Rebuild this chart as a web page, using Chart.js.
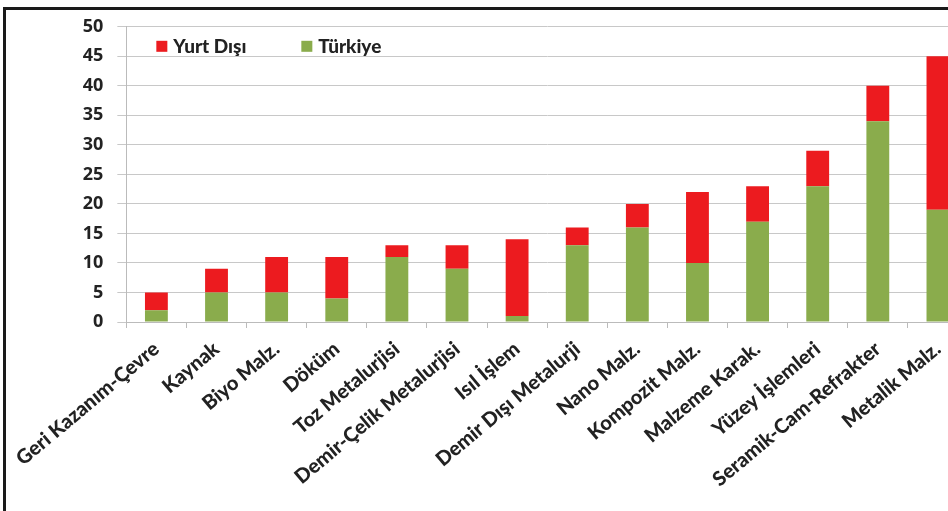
<!DOCTYPE html>
<html>
<head>
<meta charset="utf-8">
<script src="https://cdn.jsdelivr.net/npm/chart.js@4"></script>
<style>
  html, body { margin: 0; padding: 0; background: #fff; overflow: hidden; width: 948px; height: 511px; }
  #frame { position: absolute; left: 3px; top: 7px; width: 962px; height: 520px; border: 3px solid #1a1a1a; background: #fff; }
  #chart { position: absolute; left: 0; top: -8px; }
</style>
</head>
<body>
<div id="frame"><canvas id="chart" width="962" height="508"></canvas></div>
<script>
// categories and series
const categories = ['Geri Kazanım-Çevre', 'Kaynak', 'Biyo Malz.', 'Döküm', 'Toz Metalurjisi',
                    'Demir-Çelik Metalurjisi', 'Isıl İşlem', 'Demir Dışı Metalurji', 'Nano Malz.',
                    'Kompozit Malz.', 'Malzeme Karak.', 'Yüzey İşlemleri', 'Seramik-Cam-Refrakter', 'Metalik Malz.'];
const turkiye   = [2, 5, 5, 4, 11, 9, 1, 13, 16, 10, 17, 23, 34, 19];
const yurtDisi  = [3, 4, 6, 7, 2, 4, 13, 3, 4, 12, 6, 6, 6, 26];
const yTicks    = [0, 5, 10, 15, 20, 25, 30, 35, 40, 45, 50];

// legend drawn inside the plot, in one row (Yurt Dışı first)
const inlineLegend = {
    id: 'inlineLegend',
    afterDraw(chart) {
        const ctx = chart.ctx;
        const a = chart.chartArea;
        let x = a.left + 30;
        const y = a.top + 20;
        ctx.save();
        ctx.font = '900 19px Lato';
        ctx.textBaseline = 'middle';
        chart.data.datasets.slice().reverse().forEach(ds => {
            ctx.fillStyle = ds.backgroundColor;
            ctx.fillRect(x, y - 6, 11, 11);
            ctx.fillStyle = '#222';
            ctx.fillText(ds.label, x + 17, y);
            x += 145;
        });
        ctx.restore();
    }
};

new Chart(document.getElementById('chart').getContext('2d'), {
    type: 'bar',
    data: {
        labels: categories,
        datasets: [
            { label: 'Türkiye',   data: turkiye,  backgroundColor: '#8aac4c', barPercentage: 0.38, categoryPercentage: 1 },
            { label: 'Yurt Dışı', data: yurtDisi, backgroundColor: '#ec1b1f', barPercentage: 0.38, categoryPercentage: 1 }
        ]
    },
    plugins: [inlineLegend],
    options: {
        responsive: false,
        devicePixelRatio: 1,
        animation: false,
        layout: { padding: { top: 0, left: 0, right: 0, bottom: 0 } },
        plugins: {
            legend: { display: false },
            tooltip: { enabled: false }
        },
        scales: {
            x: {
                stacked: true,
                afterFit: s => { s.height = 188; },
                grid: { offset: true, drawOnChartArea: false, color: '#bbb', tickLength: 6 },
                border: { color: '#bbb' },
                ticks: { font: { family: 'Lato', weight: '900', size: 20 }, color: '#222',
                         minRotation: 40, maxRotation: 40, padding: 9 }
            },
            y: {
                stacked: true,
                min: 0, max: 50,
                afterBuildTicks: s => { s.ticks = yTicks.map(v => ({ value: v })); },
                afterFit: s => { s.width = 116; },
                grid: { color: '#c8c8c8', tickLength: 9 },
                border: { color: '#bbb' },
                ticks: { font: { family: 'Open Sans', weight: 'bold', size: 18 }, color: '#222', padding: 14 }
            }
        }
    }
});
</script>
</body>
</html>
